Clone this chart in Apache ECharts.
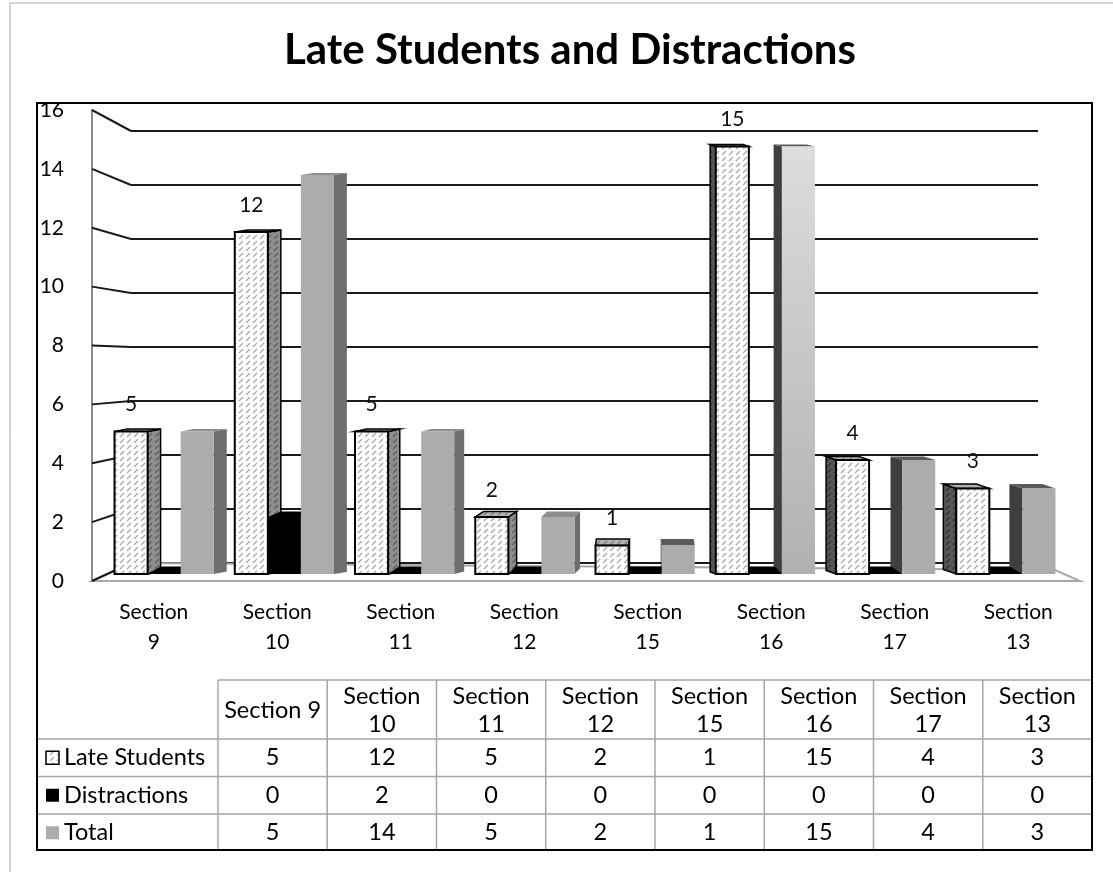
<!DOCTYPE html>
<html>
<head>
<meta charset="utf-8">
<script src="https://cdn.jsdelivr.net/npm/echarts@6/dist/echarts.min.js"></script>
<style>html,body{margin:0;padding:0;background:#fff;}#main{width:1113px;height:872px;}</style>
</head>
<body>
<div id="main"></div>
<script>
// ---- data ----
const categories = ['Section 9','Section 10','Section 11','Section 12','Section 15','Section 16','Section 17','Section 13'];
const lateStudents = [5, 12, 5, 2, 1, 15, 4, 3];
const distractions = [0, 2, 0, 0, 0, 0, 0, 0];
const total = [5, 14, 5, 2, 1, 15, 4, 3];
const seriesNames = ['Late Students', 'Distractions', 'Total'];
const yTicks = [0, 2, 4, 6, 8, 10, 12, 14, 16];
const titleText = 'Late Students and Distractions';

// ---- layout ----
const FONT = 'Lato, "Open Sans", sans-serif';
const L = {
  bars:  {left: 104, top: 118, width: 962, height: 456},
  front: {left: 92,  top: 110, width: 988, height: 471},
  back:  {left: 131, top: 131, width: 907, height: 432}
};
const VANISH_X = 645;

function hatch(bg, fg) {
  const c = document.createElement('canvas');
  c.width = 7; c.height = 6;
  const g = c.getContext('2d');
  g.fillStyle = bg; g.fillRect(0, 0, 7, 6);
  g.strokeStyle = fg; g.lineWidth = 1.2;
  g.beginPath(); g.moveTo(1, 5); g.lineTo(5, 1); g.stroke();
  return {image: c, repeat: 'repeat'};
}
const PAT = {
  front: hatch('#ffffff', '#a9a9a9'),
  sideLight: hatch('#8e8e8e', '#5e5e5e'),
  sideDark: hatch('#565656', '#333333'),
  top: hatch('#b4b4b4', '#7e7e7e')
};

function renderItem(params, api) {
  const i = api.value(0);
  const vals = [api.value(1), api.value(2), api.value(3)];
  const base = api.coord([i, 0]);
  const band = api.size([1, 0])[0];
  const bw = band * 0.275;
  const cx = base[0], by = base[1];
  const bars = vals.map((v, k) => {
    const x0 = cx - 1.5 * bw + k * bw, x1 = x0 + bw;
    const yt = api.coord([i, v])[1];
    const mid = (x0 + x1) / 2;
    let dx;
    if (mid < VANISH_X) {
      const d = Math.max(0, VANISH_X - x1 - 15);
      dx = Math.min(13, 0.75 * Math.sqrt(d));
    } else {
      const d = Math.max(0, x0 - VANISH_X - 15);
      dx = -Math.min(13, 0.75 * Math.sqrt(d));
    }
    const dy = 2 + Math.max(0, yt - 420) * 0.036;
    return {k, v, x0, x1, yt, dx, dy, mid};
  });
  // draw far-to-near relative to the vanishing point
  const order = bars.slice().sort((a, b) => Math.abs(b.mid - VANISH_X) - Math.abs(a.mid - VANISH_X));
  const children = [];
  order.forEach(b => {
    const left = b.dx < 0;
    const sx = left ? b.x0 : b.x1;
    const side = [[sx, b.yt], [sx + b.dx, b.yt - b.dy], [sx + b.dx, by - b.dy], [sx, by]];
    const top = [[b.x0, b.yt], [b.x1, b.yt], [b.x1 + b.dx, b.yt - b.dy], [b.x0 + b.dx, b.yt - b.dy]];
    let sideStyle, topStyle, frontStyle;
    if (b.k === 0) {
      sideStyle = {fill: left ? PAT.sideDark : PAT.sideLight, stroke: '#000', lineWidth: 1.5};
      topStyle = {fill: PAT.top, stroke: '#000', lineWidth: 1.5};
      frontStyle = {fill: PAT.front, stroke: '#000', lineWidth: 2};
    } else if (b.k === 1) {
      sideStyle = {fill: '#111'};
      topStyle = {fill: '#000'};
      frontStyle = {fill: '#000'};
    } else {
      const near = b.x0 - VANISH_X;
      const light = left && near > 40 && near < 160;
      sideStyle = {fill: left ? '#3f3f3f' : '#6f6d6d'};
      topStyle = {fill: left ? '#5a5a5a' : '#8e8c8c'};
      frontStyle = {fill: light ? new echarts.graphic.LinearGradient(0, 0, 0, 1, [
        {offset: 0, color: '#dedcdc'}, {offset: 1, color: '#b3b0b0'}]) : '#aeabab'};
    }
    if (Math.abs(b.dx) > 0.5) children.push({type: 'polygon', shape: {points: side}, style: sideStyle});
    children.push({type: 'polygon', shape: {points: top}, style: topStyle});
    if (by - b.yt > 0.5) children.push({type: 'rect', shape: {x: b.x0, y: b.yt, width: b.x1 - b.x0, height: by - b.yt}, style: frontStyle});
    if (b.k === 0) {
      children.push({type: 'text', style: {text: String(b.v), x: b.mid, y: b.yt - 27, align: 'center', verticalAlign: 'middle', font: '21px ' + FONT, fill: '#111'}});
    }
  });
  return {type: 'group', children};
}

const chart = echarts.init(document.getElementById('main'));
chart.setOption({
  animation: false,
  backgroundColor: '#fff',
  title: {
    text: titleText, left: 565, top: 24, textAlign: 'center',
    textStyle: {fontFamily: FONT, fontSize: 42, fontWeight: 'bold', color: '#000'}
  },
  grid: [
    Object.assign({containLabel: false}, L.bars),
    Object.assign({containLabel: false}, L.front),
    Object.assign({containLabel: false}, L.back)
  ],
  xAxis: [
    {type: 'category', gridIndex: 0, data: categories, show: false},
    {type: 'category', gridIndex: 1, data: categories,
     axisLine: {show: false}, axisTick: {show: false},
     axisLabel: {formatter: c => c.replace(' ', '\n'), fontFamily: FONT, fontSize: 21, lineHeight: 30, margin: 16, color: '#000'}},
    {type: 'value', gridIndex: 2, min: 0, max: 1, show: false}
  ],
  yAxis: [
    {type: 'value', gridIndex: 0, min: 0, max: 16, interval: 2, show: false},
    {type: 'value', gridIndex: 1, min: 0, max: 16, interval: 2,
     axisLine: {show: true, lineStyle: {color: '#8c8c8c', width: 2}}, axisTick: {show: false},
     splitLine: {show: false},
     axisLabel: {fontFamily: FONT, fontSize: 21, margin: 28, color: '#000'}},
    {type: 'value', gridIndex: 2, min: 0, max: 16, interval: 2,
     axisLine: {show: false}, axisTick: {show: false}, axisLabel: {show: false},
     splitLine: {show: true, lineStyle: {color: '#1a1a1a', width: 2}}}
  ],
  series: [{
    type: 'custom', name: seriesNames.join(' / '), xAxisIndex: 0, yAxisIndex: 0, z: 5,
    renderItem: renderItem,
    encode: {x: 0, y: [1, 2, 3]},
    data: categories.map((c, i) => [i, lateStudents[i], distractions[i], total[i]])
  }]
});

// ---- decorations: side wall, floor, frame, data table ----
const g = [];
const fL = L.front.left, fR = L.front.left + L.front.width, fB = L.front.top + L.front.height;
const bL = L.back.left, bR = L.back.left + L.back.width, bB = L.back.top + L.back.height;
g.push({type: 'polygon', z: 1, shape: {points: [[fL, fB], [fR, fB], [bR + 17, bB + 7], [bL, bB]]},
        style: {fill: '#fff', stroke: '#a8a8a8', lineWidth: 2}});
yTicks.forEach(v => {
  const yf = chart.convertToPixel({yAxisIndex: 1}, v);
  const yb = chart.convertToPixel({yAxisIndex: 2}, v);
  g.push({type: 'line', z: 2, shape: {x1: fL, y1: yf, x2: bL, y2: yb}, style: {stroke: '#1a1a1a', lineWidth: 2}});
});
// frames
g.push({type: 'line', z: 10, shape: {x1: 10, y1: 3, x2: 1113, y2: 3}, style: {stroke: '#aaa', lineWidth: 1}});
g.push({type: 'line', z: 10, shape: {x1: 10, y1: 3, x2: 10, y2: 872}, style: {stroke: '#aaa', lineWidth: 1}});
g.push({type: 'rect', z: 20, shape: {x: 37, y: 103, width: 1055, height: 747}, style: {fill: 'none', stroke: '#000', lineWidth: 2}});

// data table
const T = {x0: 218, colW: 109.25, top: 680, headH: 59, rowH: 37.5, left: 37, right: 1092, bottom: 850};
const gridCol = '#a6a6a6';
const TFONT = '23.5px ' + FONT;
const rowsData = [lateStudents, distractions, total];
g.push({type: 'line', z: 15, shape: {x1: T.x0, y1: T.top, x2: T.right, y2: T.top}, style: {stroke: gridCol, lineWidth: 1.5}});
for (let r = 0; r <= rowsData.length; r++) {
  const y = T.top + T.headH + r * T.rowH;
  if (y < T.bottom) g.push({type: 'line', z: 15, shape: {x1: T.left, y1: y, x2: T.right, y2: y}, style: {stroke: gridCol, lineWidth: 1.5}});
}
for (let c = 0; c <= categories.length; c++) {
  const x = T.x0 + c * T.colW;
  g.push({type: 'line', z: 15, shape: {x1: x, y1: T.top, x2: x, y2: T.bottom}, style: {stroke: gridCol, lineWidth: 1.5}});
}
categories.forEach((c, i) => {
  const cxx = T.x0 + (i + 0.5) * T.colW;
  const txt = c.length > 9 ? c.replace(' ', '\n') : c;
  g.push({type: 'text', z: 16, style: {text: txt, x: cxx, y: T.top + T.headH / 2 + 1, align: 'center', verticalAlign: 'middle',
          font: TFONT, lineHeight: 28, fill: '#000'}});
  rowsData.forEach((arr, r) => {
    g.push({type: 'text', z: 16, style: {text: String(arr[i]), x: cxx, y: T.top + T.headH + (r + 0.5) * T.rowH, align: 'center', verticalAlign: 'middle',
            font: TFONT, fill: '#000'}});
  });
});
const iconStyles = [
  {fill: PAT.front, stroke: '#000', lineWidth: 1.5},
  {fill: '#000'},
  {fill: '#aeabab'}
];
seriesNames.forEach((n, r) => {
  const yc = T.top + T.headH + (r + 0.5) * T.rowH;
  g.push({type: 'rect', z: 16, shape: {x: 46, y: yc - 6.5, width: 13, height: 13}, style: iconStyles[r]});
  g.push({type: 'text', z: 16, style: {text: n, x: 64, y: yc, align: 'left', verticalAlign: 'middle', font: TFONT, fill: '#000'}});
});

chart.setOption({graphic: g});
</script>
</body>
</html>
